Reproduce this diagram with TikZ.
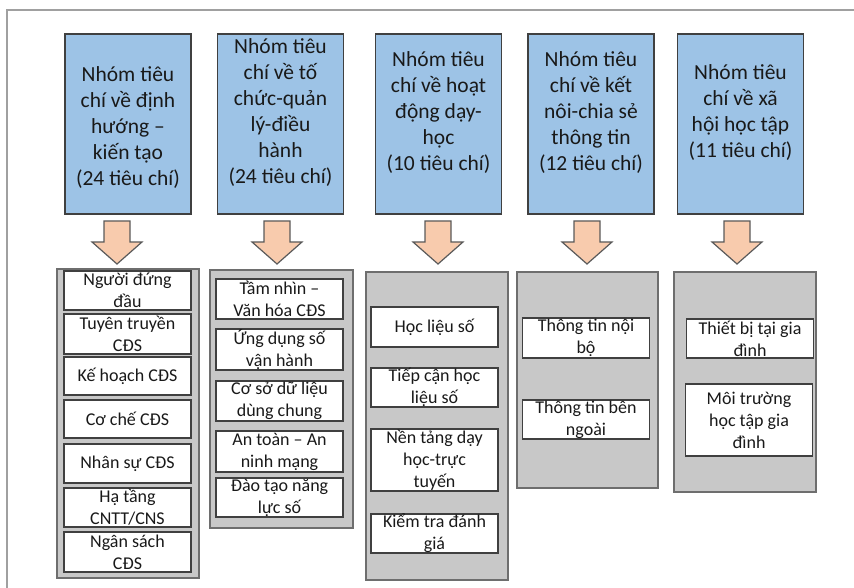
\documentclass[tikz,border=0pt]{standalone}
\usepackage{fontspec}
\setmainfont{Carlito}
\usepackage{tikz}
\definecolor{cGrp}{RGB}{157,195,230}
\definecolor{cArr}{RGB}{248,203,173}
\definecolor{cCol}{RGB}{200,200,200}
\definecolor{cLine}{RGB}{64,64,64}
\definecolor{cColLine}{RGB}{110,110,110}
\definecolor{cArrLine}{RGB}{90,90,90}
\definecolor{cText}{RGB}{25,25,25}
\definecolor{cFrame}{RGB}{160,160,160}
\tikzset{
  grp/.style={draw=cLine,line width=1.3pt,fill=cGrp,minimum width=126pt,minimum height=180pt,inner sep=0pt},
  grptxt/.style={text=cText,align=center,font=\fontsize{21.5}{26}\selectfont,inner sep=0pt},
  colbox/.style={draw=cColLine,line width=1.5pt,fill=cCol,inner sep=0pt},
  item/.style={draw=cLine,line width=1.3pt,fill=white,minimum width=127pt,inner sep=0pt},
  itemtxt/.style={text=cText,align=center,font=\fontsize{18}{22}\selectfont,inner sep=0pt},
  blk/.style={draw=cArrLine,line width=1.2pt,fill=cArr},
}
\begin{document}
\begin{tikzpicture}[x=1pt,y=1pt]
\useasboundingbox (0,0) rectangle (854,588);
\draw[cFrame,line width=2pt] (7,0) -- (7,578) -- (854,578);
% top row of groups
\node[grp,label={[grptxt,yshift=-3.5pt]center:{Nhóm tiêu\\chí về định\\hướng –\\kiến tạo\\(24 tiêu chí)}}] (g1) at (128,464) {};
\node[grp,label={[grptxt,yshift=11pt]center:{Nhóm tiêu\\chí về tố\\chức-quản\\lý-điều\\hành\\(24 tiêu chí)}}] (g2) at (280.5,464) {};
\node[grp,label={[grptxt,yshift=11pt]center:{Nhóm tiêu\\chí về hoạt\\động dạy-\\học\\(10 tiêu chí)}}] (g3) at (438.5,464) {};
\node[grp,label={[grptxt,yshift=11pt]center:{Nhóm tiêu\\chí về kết\\nôi-chia sẻ\\thông tin\\(12 tiêu chí)}}] (g4) at (591,464) {};
\node[grp,label={[grptxt,yshift=11pt]center:{Nhóm tiêu\\chí về xã\\hội học tập\\(11 tiêu chí)}}] (g5) at (740.5,464) {};
% arrows
\foreach \ax in {117,277,438,587,737}
  \draw[blk] (\ax-13,367) -- (\ax+13,367) -- (\ax+13,346) -- (\ax+25,346)
    -- (\ax,324) -- (\ax-25,346) -- (\ax-13,346) -- cycle;
% gray columns
\node[colbox,minimum width=142pt,minimum height=309pt] (c1) at (128,164.5) {};
\node[colbox,minimum width=143pt,minimum height=258pt] (c2) at (281.5,189) {};
\node[colbox,minimum width=142pt,minimum height=308pt] (c3) at (437,162) {};
\node[colbox,minimum width=141pt,minimum height=216pt] (c4) at (587.5,208) {};
\node[colbox,minimum width=142pt,minimum height=220pt] (c5) at (745,206) {};
% column 1
\node[item,minimum height=39pt,label={[itemtxt]center:{Người đứng\\đầu}}] (a1) at (127.5,297.5) {};
\node[item,minimum height=40pt,label={[itemtxt]center:{Tuyên truyền\\CĐS}}] (a2) at (127.5,254) {};
\node[item,minimum height=38pt,label={[itemtxt]center:{Kế hoạch CĐS}}] (a3) at (127.5,212) {};
\node[item,minimum height=38pt,label={[itemtxt]center:{Cơ chế CĐS}}] (a4) at (127.5,169) {};
\node[item,minimum height=39pt,label={[itemtxt]center:{Nhân sự CĐS}}] (a5) at (127.5,124.5) {};
\node[item,minimum height=39pt,label={[itemtxt]center:{Hạ tầng\\CNTT/CNS}}] (a6) at (127.5,80.5) {};
\node[item,minimum height=40pt,label={[itemtxt]center:{Ngân sách\\CĐS}}] (a7) at (127.5,36) {};
% column 2
\node[item,minimum height=40pt,label={[itemtxt]center:{Tầm nhìn –\\Văn hóa CĐS}}] (b1) at (279.5,289) {};
\node[item,minimum height=41pt,label={[itemtxt]center:{Ứng dụng số\\vận hành}}] (b2) at (279.5,238.5) {};
\node[item,minimum height=40pt,label={[itemtxt]center:{Cơ sở dữ liệu\\dùng chung}}] (b3) at (279.5,187) {};
\node[item,minimum height=41pt,label={[itemtxt]center:{An toàn – An\\ninh mạng}}] (b4) at (279.5,136.5) {};
\node[item,minimum height=39pt,label={[itemtxt]center:{Đào tạo năng\\lực số}}] (b5) at (279.5,90.5) {};
% column 3
\node[item,minimum height=40pt,label={[itemtxt]center:{Học liệu số}}] (c31) at (434.5,261) {};
\node[item,minimum height=39pt,label={[itemtxt]center:{Tiếp cận học\\liệu số}}] (c32) at (434.5,200.5) {};
\node[item,minimum height=62pt,label={[itemtxt]center:{Nền tảng dạy\\học-trực\\tuyến}}] (c33) at (434.5,128) {};
\node[item,minimum height=39pt,label={[itemtxt]center:{Kiểm tra đánh\\giá}}] (c34) at (434.5,54.5) {};
% column 4
\node[item,minimum height=40pt,label={[itemtxt]center:{Thông tin nội\\bộ}}] (d1) at (586,250) {};
\node[item,minimum height=39pt,label={[itemtxt]center:{Thông tin bên\\ngoài}}] (d2) at (586,168.5) {};
% column 5
\node[item,minimum height=39pt,label={[itemtxt]center:{Thiết bị tại gia\\đình}}] (e1) at (750,249.5) {};
\node[item,minimum height=72pt,label={[itemtxt]center:{Môi trường\\học tập gia\\đình}}] (e2) at (749,168) {};
\end{tikzpicture}
\end{document}
